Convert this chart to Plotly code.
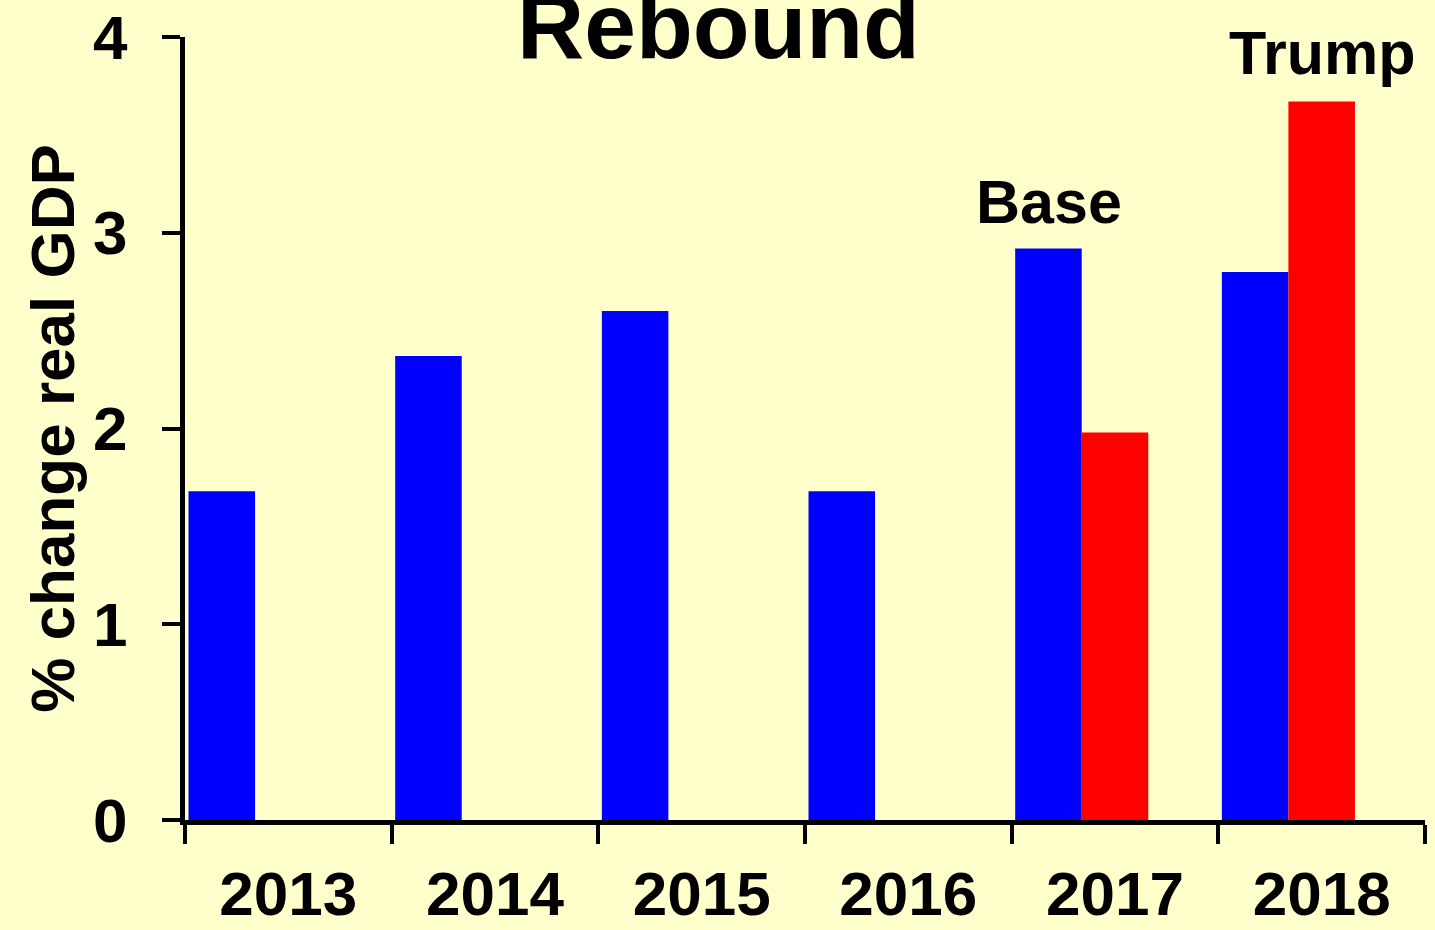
import plotly.graph_objects as go

YEARS = ["2013", "2014", "2015", "2016", "2017", "2018"]
BASE = [1.68, 2.37, 2.60, 1.68, 2.92, 2.80]
TRUMP = [None, None, None, None, 1.98, 3.67]
Y_TICKS = [0, 1, 2, 3, 4]

FONT = "Arial, Liberation Sans, sans-serif"
BG = "#FFFFCC"

fig = go.Figure()
fig.add_trace(go.Bar(x=YEARS, y=BASE, name="Base", marker_color="#0000FF",
                     marker_line_width=0, width=0.322, offset=-0.483))
fig.add_trace(go.Bar(x=YEARS, y=TRUMP, name="Trump", marker_color="#FF0000",
                     marker_line_width=0, width=0.322, offset=-0.161))

# title sits partly above the page edge in the original
fig.add_annotation(text="Rebound", x=0.43, y=1.0, xref="paper", yref="paper",
                   xanchor="center", yanchor="middle", yshift=11, showarrow=False,
                   font=dict(size=93, family=FONT, color="black", weight="bold"))
fig.add_annotation(text="Base", x=0.697, y=3.157, xref="paper", yref="y",
                   xanchor="center", yanchor="middle", showarrow=False,
                   font=dict(size=61, family=FONT, color="black", weight="bold"))
fig.add_annotation(text="Trump", x=0.917, y=3.92, xref="paper", yref="y",
                   xanchor="center", yanchor="middle", showarrow=False,
                   font=dict(size=61, family=FONT, color="black", weight="bold"))

tick_font = dict(size=62, family=FONT, color="black", weight="bold")

fig.update_layout(
    width=1435, height=930,
    margin=dict(l=185, r=10, t=37, b=110),
    paper_bgcolor=BG, plot_bgcolor=BG,
    barmode="overlay", showlegend=False,
    font=dict(family=FONT, color="black", size=62),
    xaxis=dict(
        type="category", range=[-0.5, 5.5], automargin=False,
        showline=True, linecolor="black", linewidth=5,
        ticks="outside", tickson="boundaries", ticklen=19, tickwidth=4, tickcolor="black",
        tickfont=tick_font, ticklabelstandoff=16,
        showgrid=False, zeroline=False,
    ),
    yaxis=dict(
        range=[0, 4], tickvals=Y_TICKS, automargin=False,
        showline=True, linecolor="black", linewidth=5,
        ticks="outside", ticklen=18, tickwidth=4, tickcolor="black",
        tickfont=tick_font, ticklabelstandoff=22,
        title=dict(text="% change real GDP", font=tick_font, standoff=0),
        showgrid=False, zeroline=False,
    ),
)

fig.write_html("out.html", config={"displayModeBar": False},
               post_script="document.body.style.margin='0';")
